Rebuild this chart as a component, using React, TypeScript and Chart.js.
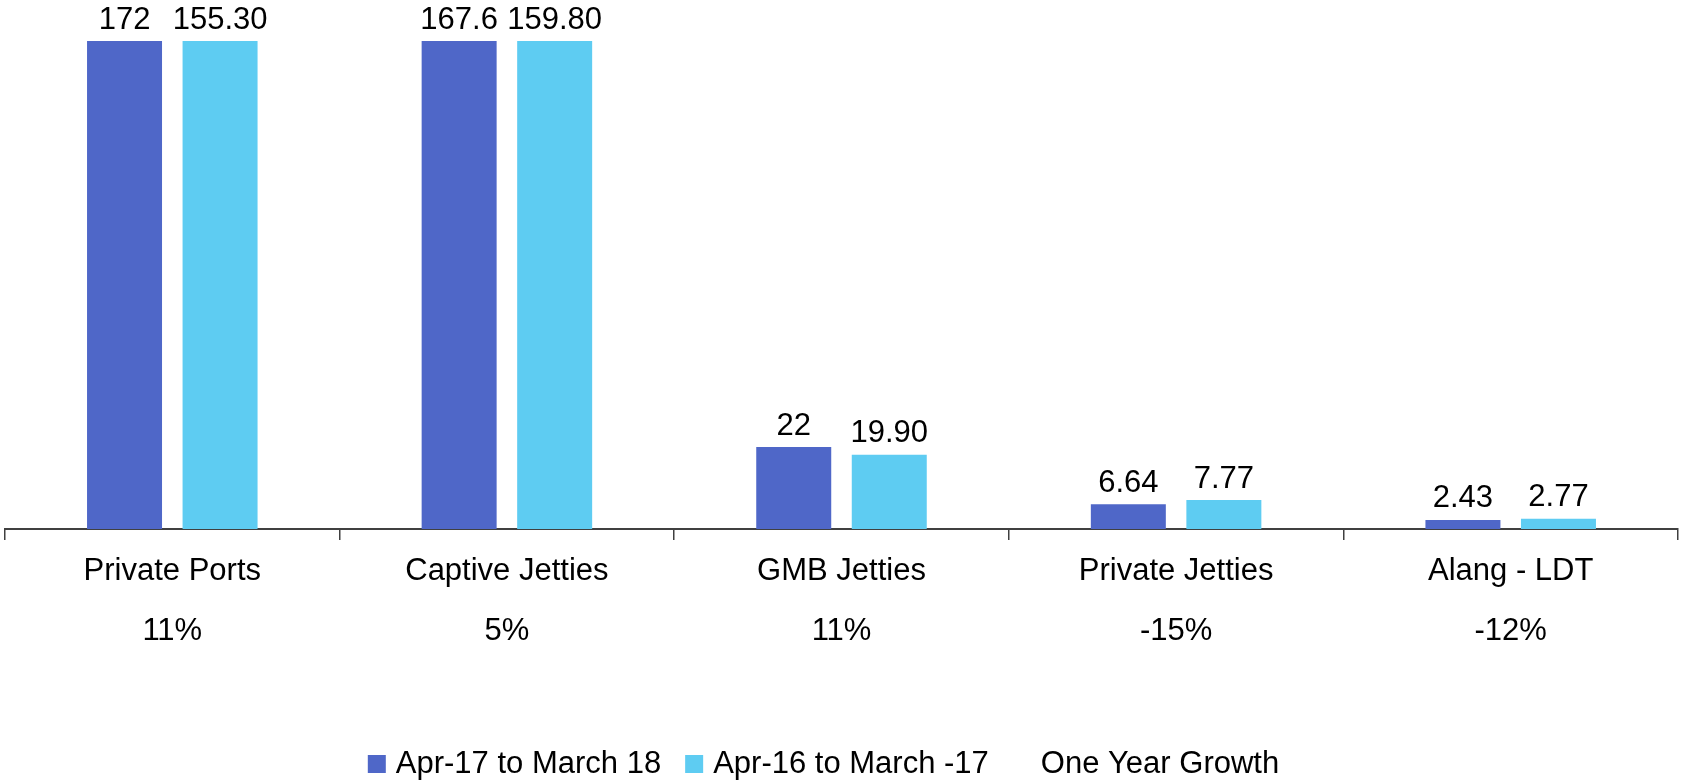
import React, { useEffect, useRef } from "react";
import { Chart, registerables } from "chart.js";

Chart.register(...registerables);

const categories = ["Private Ports", "Captive Jetties", "GMB Jetties", "Private Jetties", "Alang - LDT"];
const growthLabels = ["11%", "5%", "11%", "-15%", "-12%"];
const seriesCurrent = [172, 167.6, 22, 6.64, 2.43];
const seriesPrevious = [155.3, 159.8, 19.9, 7.77, 2.77];
const seriesNames = ["Apr-17 to March 18", "Apr-16 to March -17", "One Year Growth"];
const yAxisMax = 131;

const FONT = '"Liberation Sans", Arial, Helvetica, sans-serif';
const FONT_SIZE = 31;
const DARK = "#4F67C8";
const LIGHT = "#5ECCF2";
const AXIS = "#404040";

const formatters = [
  (v: number) => String(v),
  (v: number) => v.toFixed(2),
];

const barLabelPlugin = {
  id: "barLabels",
  afterDatasetsDraw(chart: any) {
    const { ctx, chartArea } = chart;
    ctx.save();
    ctx.font = `${FONT_SIZE}px ${FONT}`;
    ctx.fillStyle = "#000";
    ctx.textAlign = "center";
    ctx.textBaseline = "alphabetic";
    chart.data.datasets.forEach((ds: any, i: number) => {
      const meta = chart.getDatasetMeta(i);
      meta.data.forEach((el: any, j: number) => {
        const y = Math.max(el.y, chartArea.top);
        ctx.fillText(formatters[i](ds.data[j]), el.x, y - 12.5);
      });
    });
    ctx.restore();
  },
};

const legendPlugin = {
  id: "customLegend",
  afterDraw(chart: any) {
    const { ctx } = chart;
    const items = [
      { text: seriesNames[0], color: DARK },
      { text: seriesNames[1], color: LIGHT },
      { text: seriesNames[2], color: null as string | null },
    ];
    const box = 18;
    const gap = 10;
    const spacing = 24;
    ctx.save();
    ctx.font = `${FONT_SIZE}px ${FONT}`;
    const widths = items.map((it) => box + gap + ctx.measureText(it.text).width);
    const total = widths.reduce((a, b) => a + b, 0) + spacing * (items.length - 1);
    let x = chart.width / 2 - total / 2 - 17;
    const cy = 764;
    ctx.textBaseline = "middle";
    ctx.textAlign = "left";
    items.forEach((it, i) => {
      if (it.color) {
        ctx.fillStyle = it.color;
        ctx.fillRect(x, cy - box / 2, box, box);
      }
      ctx.fillStyle = "#000";
      ctx.fillText(it.text, x + box + gap, cy);
      x += widths[i] + spacing;
    });
    ctx.restore();
  },
};

export default function App() {
  const canvasRef = useRef<HTMLCanvasElement | null>(null);

  useEffect(() => {
    if (!canvasRef.current) return;
    Chart.defaults.font.family = FONT;
    const chart = new Chart(canvasRef.current, {
      type: "bar",
      data: {
        labels: categories.map((c, i) => [c, growthLabels[i]]),
        datasets: [
          {
            label: seriesNames[0],
            data: seriesCurrent,
            backgroundColor: DARK,
            borderWidth: 0,
            clip: 0,
            categoryPercentage: 0.571,
            barPercentage: 0.785,
          },
          {
            label: seriesNames[1],
            data: seriesPrevious,
            backgroundColor: LIGHT,
            borderWidth: 0,
            clip: 0,
            categoryPercentage: 0.571,
            barPercentage: 0.785,
          },
        ],
      },
      options: {
        responsive: false,
        animation: false,
        events: [],
        layout: { padding: { top: 41, left: 5, right: 3, bottom: 51 } },
        plugins: {
          legend: { display: false },
          tooltip: { enabled: false },
          title: { display: false },
        },
        scales: {
          x: {
            grid: {
              offset: true,
              drawOnChartArea: false,
              drawTicks: true,
              tickLength: 11,
              color: AXIS,
              lineWidth: 1.5,
            },
            border: { display: true, color: AXIS, width: 2 },
            ticks: {
              color: "#000",
              font: { family: FONT, size: FONT_SIZE, lineHeight: 60 / FONT_SIZE },
              padding: 1,
              maxRotation: 0,
              autoSkip: false,
            },
            afterFit: (scale: any) => {
              scale.height = 201;
            },
          },
          y: {
            display: false,
            min: 0,
            max: yAxisMax,
          },
        },
      },
      plugins: [barLabelPlugin, legendPlugin],
    } as any);
    return () => chart.destroy();
  }, []);

  return (
    <div style={{ position: "absolute", left: 0, top: 0, width: 1681, height: 781, background: "#fff" }}>
      <canvas ref={canvasRef} width={1681} height={781} style={{ display: "block" }} />
    </div>
  );
}
